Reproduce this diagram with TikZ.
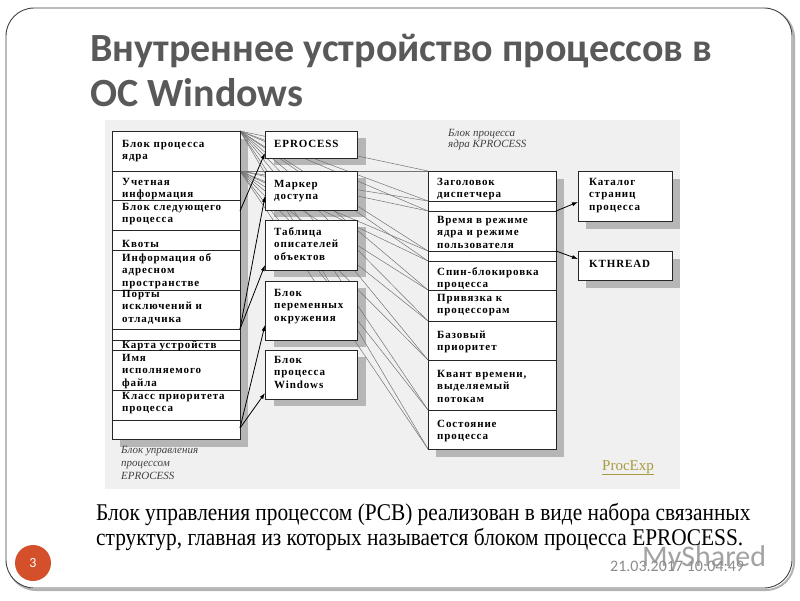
\documentclass[tikz,border=0pt]{standalone}
\usepackage{fontspec}
\setmainfont{Liberation Serif}
\newfontfamily\titlefont{Carlito}
\newfontfamily\boxfont[LetterSpace=8]{Liberation Serif}
\newfontfamily\bodyfont[FakeStretch=0.89]{Liberation Serif}
\newfontfamily\smallsans{Carlito}
\usetikzlibrary{arrows.meta}
\pgfdeclarelayer{bg}
\pgfdeclarelayer{lines}
\pgfsetlayers{bg,lines,main}
\definecolor{titlegray}{HTML}{595959}
\definecolor{shadowgray}{HTML}{B6B6B6}
\definecolor{panelbg}{HTML}{F0F0F0}
\definecolor{procexp}{HTML}{A89B3E}
\definecolor{badge}{HTML}{D4502A}
\begin{document}
\begin{tikzpicture}[x=1pt,y=-1pt,
  box/.style={draw=black!85, fill=white, anchor=north west, inner sep=0pt, outer sep=0pt, line width=1pt},
  boxtxt/.style={anchor=north west, align=left, inner sep=0pt, font=\boxfont\bfseries\fontsize{11}{12.7}\selectfont},
  itlabel/.style={anchor=north west, align=left, inner sep=0pt, text=black!75, font=\itshape\fontsize{11}{13}\selectfont},
  fan/.style={draw=black!55, line width=0.5pt},
  ptr/.style={draw=black, line width=0.8pt, -{Latex[length=6pt,width=4pt]}},
  shadow/.style={fill=shadowgray, draw=none}
]
\useasboundingbox (0,0) rectangle (800,600);
% slide frame
\begin{pgfonlayer}{bg}
\fill[white] (0,0) rectangle (800,600);
\draw[rounded corners=28pt, line width=2pt, draw=black!30] (8,10) rectangle (794,590);
\draw[rounded corners=28pt, line width=0.9pt, draw=black!75, fill=white] (6,8) rectangle (792,588);
\fill[panelbg] (105,120) rectangle (680,489);
\end{pgfonlayer}

% title
\node[anchor=base west, inner sep=0pt, text=titlegray, font=\titlefont\bfseries\fontsize{40}{40}\selectfont] (title1) at (90,61) {Внутреннее устройство процессов в};
\node[anchor=base west, inner sep=0pt, text=titlegray, font=\titlefont\bfseries\fontsize{40}{40}\selectfont] (title2) at (90,106) {ОС Windows};

% left column (EPROCESS)
\node[box, minimum width=128pt, minimum height=40pt] (L1) at (112,131) {};
\node[box, minimum width=128pt, minimum height=29pt] (L2) at (112,171) {};
\node[box, minimum width=128pt, minimum height=30pt] (L3) at (112,200) {};
\node[box, minimum width=128pt, minimum height=20pt] (L4) at (112,230) {};
\node[box, minimum width=128pt, minimum height=40pt] (L5) at (112,250) {};
\node[box, minimum width=128pt, minimum height=39pt] (L6) at (112,290) {};
\node[box, minimum width=128pt, minimum height=11pt] (L7) at (112,329) {};
\node[box, minimum width=128pt, minimum height=10pt] (L8) at (112,340) {};
\node[box, minimum width=128pt, minimum height=40pt] (L9) at (112,350) {};
\node[box, minimum width=128pt, minimum height=30pt] (L10) at (112,390) {};
\node[box, minimum width=128pt, minimum height=19pt] (L11) at (112,420) {};

\node[boxtxt] (tL1) at (122,138.1) {\strut Блок процесса\\ядра};
\node[boxtxt] (tL2) at (122,176.1) {\strut Учетная\\информация};
\node[boxtxt] (tL3) at (122,201.1) {\strut Блок следующего\\процесса};
\node[boxtxt] (tL4) at (122,238.1) {\strut Квоты};
\node[boxtxt] (tL5) at (122,252.1) {\strut Информация об\\адресном\\пространстве};
\node[boxtxt] (tL6) at (122,288.1) {\strut Порты\\исключений и\\отладчика};
\node[boxtxt] (tL8) at (122,339.1) {\strut Карта устройств};
\node[boxtxt] (tL9) at (122,352.1) {\strut Имя\\исполняемого\\файла};
\node[boxtxt] (tL10) at (122,390.1) {\strut Класс приоритета\\процесса};
\node[itlabel] (lblE) at (121,444.1) {\strut Блок управления\\процессом\\EPROCESS};

% middle boxes
\node[box, minimum width=92pt, minimum height=27pt] (M1) at (265,131) {};
\node[box, minimum width=92pt, minimum height=39pt] (M2) at (265,171) {};
\node[box, minimum width=92pt, minimum height=50pt] (M3) at (265,220) {};
\node[box, minimum width=92pt, minimum height=59pt] (M4) at (265,281) {};
\node[box, minimum width=92pt, minimum height=49pt] (M5) at (265,350) {};
\node[boxtxt] (tM1) at (274,138.1) {\strut EPROCESS};
\node[boxtxt] (tM2) at (274,178.1) {\strut Маркер\\доступа};
\node[boxtxt] (tM3) at (274,226.1) {\strut Таблица\\описателей\\объектов};
\node[boxtxt] (tM4) at (274,287.1) {\strut Блок\\переменных\\окружения};
\node[boxtxt] (tM5) at (274,354.1) {\strut Блок\\процесса\\Windows};

% KPROCESS column
\node[box, minimum width=128pt, minimum height=30pt] (K1) at (428,171) {};
\node[box, minimum width=128pt, minimum height=10pt] (K2) at (428,201) {};
\node[box, minimum width=128pt, minimum height=40pt] (K3) at (428,211) {};
\node[box, minimum width=128pt, minimum height=10pt] (K4) at (428,251) {};
\node[box, minimum width=128pt, minimum height=29pt] (K5) at (428,261) {};
\node[box, minimum width=128pt, minimum height=31pt] (K6) at (428,290) {};
\node[box, minimum width=128pt, minimum height=39pt] (K7) at (428,321) {};
\node[box, minimum width=128pt, minimum height=50pt] (K8) at (428,360) {};
\node[box, minimum width=128pt, minimum height=39pt] (K9) at (428,410) {};
\node[boxtxt] (tK1) at (437,176.1) {\strut Заголовок\\диспетчера};
\node[boxtxt] (tK3) at (437,214.1) {\strut Время в режиме\\ядра и режиме\\пользователя};
\node[boxtxt] (tK5) at (437,266.1) {\strut Спин-блокировка\\процесса};
\node[boxtxt] (tK6) at (437,292.1) {\strut Привязка к\\процессорам};
\node[boxtxt] (tK7) at (437,329.1) {\strut Базовый\\приоритет};
\node[boxtxt] (tK8) at (437,368.1) {\strut Квант времени,\\выделяемый\\потокам};
\node[boxtxt] (tK9) at (437,418.1) {\strut Состояние\\процесса};
\node[itlabel, font=\itshape\fontsize{11}{11.5}\selectfont] (lblK) at (448,128.1) {\strut Блок процесса\\ядра KPROCESS};

% right boxes
\node[box, minimum width=94pt, minimum height=50pt] (R1) at (578,171) {};
\node[box, minimum width=94pt, minimum height=29pt] (R2) at (578,251) {};
\node[boxtxt] (tR1) at (589,176.1) {\strut Каталог\\страниц\\процесса};
\node[boxtxt] (tR2) at (589,258.1) {\strut KTHREAD};

% shadows
\begin{pgfonlayer}{bg}
\fill[shadow] ([shift={(8pt,-8pt)}]L1.north west) rectangle ([shift={(8pt,-8pt)}]L11.south east);
\foreach \n in {M1,M2,M3,M4,M5}{
  \fill[shadow] ([shift={(9pt,-7pt)}]\n.north west) rectangle ([shift={(9pt,-7pt)}]\n.south east);
}
\fill[shadow] ([shift={(8pt,-8pt)}]K1.north west) rectangle ([shift={(8pt,-8pt)}]K9.south east);
\fill[shadow] ([shift={(8pt,-8pt)}]R1.north west) rectangle ([shift={(8pt,-8pt)}]R1.south east);
\fill[shadow] ([shift={(8pt,-8pt)}]R2.north west) rectangle ([shift={(8pt,-8pt)}]R2.south east);
\end{pgfonlayer}

% fan of lines from the KPROCESS part of EPROCESS
\begin{pgfonlayer}{lines}
\foreach \s in {L1.north east, L1.south east}{
  \foreach \t in {K1.north west, K1.south west, K2.south west, K3.south west, K4.south west, K5.south west, K6.south west, K7.south west, K8.south west, K9.south west}{
    \draw[fan] (\s) -- (\t);
  }
}
\end{pgfonlayer}

% pointer arrows
\draw[ptr] ([yshift=-11pt]L3.north east) -- ([yshift=5pt]M1.south west);
\draw[ptr] (L6.south east) -- ([yshift=14pt]M2.south west);
\draw[ptr] (L6.south east) -- ([yshift=5pt]M3.south west);
\draw[ptr] ([yshift=-8pt]L11.north east) -- ([yshift=15pt]M4.south west);
\draw[ptr] ([yshift=-8pt]L11.north east) -- ([yshift=6pt]M5.south west);
\draw[ptr] (K2.south east) -- ([yshift=19pt]R1.south west);
\draw[ptr] (K4.north east) -- ([yshift=-8pt]R2.north west);

% link
\node[anchor=base west, inner sep=0pt, text=procexp, font=\fontsize{15}{15}\selectfont] (link) at (602,470) {\underline{ProcExp}};

% body text
\node[anchor=base west, inner sep=0pt, font=\bodyfont\fontsize{24}{24}\selectfont] (body1) at (96,520) {Блок управления процессом (PCB) реализован в виде набора связанных};
\node[anchor=base west, inner sep=0pt, font=\bodyfont\fontsize{24}{24}\selectfont] (body2) at (96,545) {структур, главная из которых называется блоком процесса EPROCESS.};

% footer
\node[circle, fill=badge, minimum size=36pt, inner sep=0pt, text=white, font=\smallsans\fontsize{14}{14}\selectfont] (badge) at (33,563) {3};
\node[anchor=base west, inner sep=0pt, text=black!45, opacity=0.8, font=\smallsans\fontsize{30}{30}\selectfont] (mark) at (642,566) {MyShared};
\node[anchor=base west, inner sep=0pt, text=black!45, font=\smallsans\fontsize{16}{16}\selectfont] (date) at (610,571) {21.03.2017 10:04:49};
\end{tikzpicture}
\end{document}
